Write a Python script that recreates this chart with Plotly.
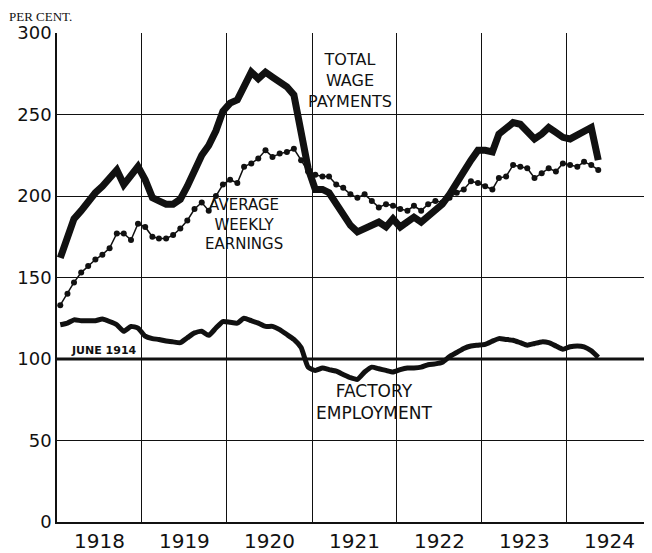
import pandas as pd
import plotly.graph_objects as go

# monthly index numbers, June 1914 = 100, Jan 1918 .. May 1924
MONTHS = pd.date_range("1918-01-01", periods=77, freq="MS") + pd.Timedelta(days=14)

TOTAL_WAGES = [
    162, 175, 186, 191, 197, 202, 206, 211, 216, 207, 212, 218,
    210, 199, 197, 195, 195, 198, 206, 216, 225, 231, 240, 252,
    257, 259, 268, 276, 272, 276, 273, 270, 267, 262, 240, 217,
    204, 204, 202, 195, 188, 182, 178, 180, 183, 184, 181, 186,
    181, 184, 187, 184, 188, 191, 195, 201, 209, 215, 222, 228,
    228, 227, 238, 242, 245, 244, 240, 235, 238, 242, 239, 236,
    235, 237, 240, 242, 222,
]
AVG_EARNINGS = [
    133, 140, 147, 153, 157, 161, 164, 168, 177, 177, 173, 183,
    181, 175, 174, 174, 176, 180, 185, 192, 196, 191, 200, 207,
    210, 208, 218, 220, 223, 228, 224, 226, 227, 229, 222, 215,
    213, 212, 212, 207, 205, 201, 199, 201, 197, 193, 195, 194,
    192, 191, 194, 191, 195, 197, 196, 199, 202, 204, 209, 208,
    206, 204, 211, 212, 219, 218, 217, 211, 214, 217, 215, 220,
    219, 218, 221, 219, 216,
]
EMPLOYMENT = [
    121, 122, 124, 123.5, 123.5, 123.5, 124.5, 123, 121, 117, 120, 119,
    114, 112.5, 112, 111, 110.5, 110, 113, 116, 117, 114.5, 119, 123,
    122.5, 122, 125, 123.5, 122, 120, 120, 118, 115, 112, 107, 95,
    93, 94.5, 93.5, 92.5, 90.5, 88.5, 87.5, 92, 95, 94, 93, 92,
    93.5, 94.5, 94.5, 95, 96.5, 97, 98, 101.5, 104, 106.5, 108, 108.5,
    109, 111, 112.5, 112, 111.5, 110, 108.5, 109.5, 110.5, 110, 108, 106,
    107.5, 108, 107.5, 105, 101,
]
BASE_INDEX = 100
Y_TICKS = [0, 50, 100, 150, 200, 250, 300]

INK = "#111111"
LABEL_FONT = "DejaVu Sans"

fig = go.Figure()

fig.add_trace(go.Scatter(
    x=MONTHS, y=AVG_EARNINGS, mode="lines+markers",
    line={"color": INK, "width": 1.5},
    marker={"color": INK, "size": 6},
    hoverinfo="skip",
))
fig.add_trace(go.Scatter(
    x=MONTHS, y=TOTAL_WAGES, mode="lines",
    line={"color": INK, "width": 7},
    hoverinfo="skip",
))
fig.add_trace(go.Scatter(
    x=MONTHS, y=EMPLOYMENT, mode="lines",
    line={"color": INK, "width": 5, "shape": "spline", "smoothing": 0.5},
    hoverinfo="skip",
))

# heavy base line at the June 1914 level
fig.add_shape(
    type="line", xref="paper", x0=0, x1=1, yref="y",
    y0=BASE_INDEX, y1=BASE_INDEX,
    line={"color": INK, "width": 3},
)


# page positions (the browser adds an 8px body margin); plot spans x 57..652, y 33..522
def _px(x_pix):
    return (x_pix - 57) / 595


def _py(y_pix):
    return (522 - y_pix) / 489


def _label(text, x, y, size, **kwargs):
    fig.add_annotation(
        text=text, x=_px(x), y=_py(y), xref="paper", yref="paper",
        showarrow=False, xanchor="center", yanchor="middle", align="center",
        font={"family": LABEL_FONT, "size": size, "color": INK},
        **kwargs,
    )


_label("TOTAL<br>WAGE<br>PAYMENTS", 350, 80, 16)
_label("AVERAGE<br>WEEKLY<br>EARNINGS", 244, 225, 15)
_label("FACTORY<br>EMPLOYMENT", 374, 402, 17)
_label("<b>JUNE 1914</b>", 104, 350, 11)

fig.add_annotation(
    text="PER CENT.", x=_px(8), y=_py(8), xref="paper", yref="paper",
    showarrow=False, xanchor="left", yanchor="top", borderpad=0,
    font={"family": "Liberation Serif", "size": 13, "color": INK},
)

fig.update_layout(
    width=644, height=545,
    margin={"l": 49, "r": 0, "t": 25, "b": 31},
    paper_bgcolor="white", plot_bgcolor="white",
    showlegend=False,
)
fig.update_xaxes(
    type="date", range=["1918-01-01", "1925-01-01"],
    dtick="M12", tick0="1918-01-01", tickformat="%Y",
    ticklabelmode="period", ticks="", ticklen=0,
    showgrid=True, gridcolor=INK, gridwidth=1,
    showline=True, linecolor=INK, linewidth=1.5,
    tickfont={"family": LABEL_FONT, "size": 20, "color": INK},
)
fig.update_yaxes(
    range=[0, 300], tickvals=Y_TICKS, ticks="", ticklen=0,
    showgrid=True, gridcolor=INK, gridwidth=1.2, zeroline=False,
    showline=True, linecolor=INK, linewidth=1.5,
    tickfont={"family": LABEL_FONT, "size": 18, "color": INK},
)

fig.write_html("out.html")
